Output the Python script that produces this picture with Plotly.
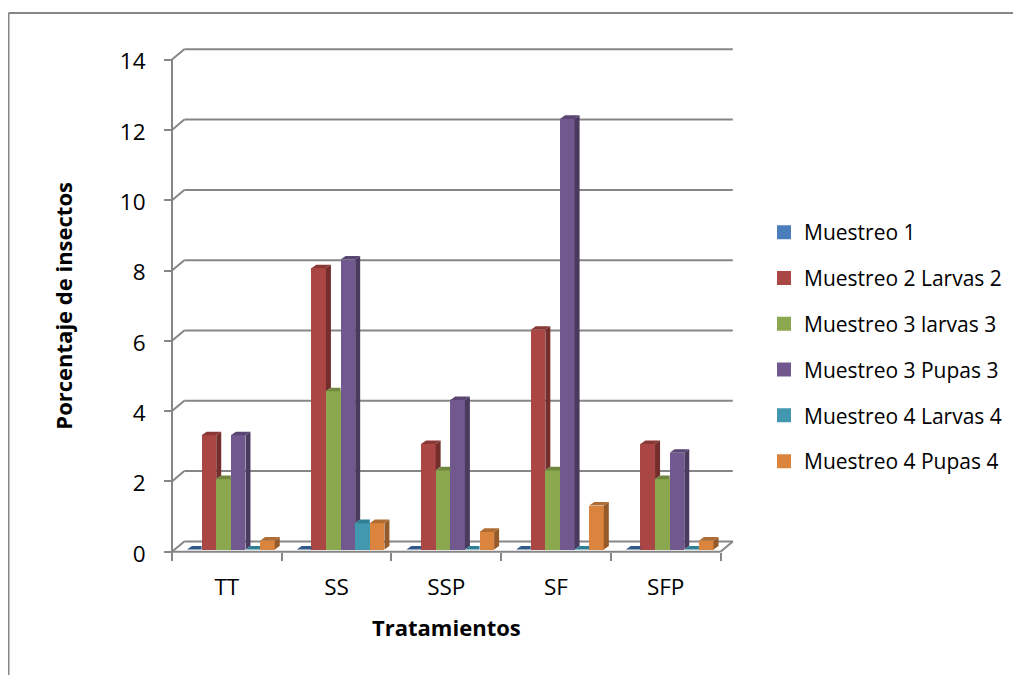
import plotly.graph_objects as go

categories = ["TT", "SS", "SSP", "SF", "SFP"]
series_names = ["Muestreo 1", "Muestreo 2 Larvas 2", "Muestreo 3 larvas 3",
                "Muestreo 3 Pupas 3", "Muestreo 4 Larvas 4", "Muestreo 4 Pupas 4"]
muestreo_1 = [0, 0, 0, 0, 0]
muestreo_2_larvas = [3.25, 8, 3, 6.25, 3]
muestreo_3_larvas = [2, 4.5, 2.25, 2.25, 2]
muestreo_3_pupas = [3.25, 8.25, 4.25, 12.25, 2.75]
muestreo_4_larvas = [0, 0.75, 0, 0, 0]
muestreo_4_pupas = [0.25, 0.75, 0.5, 1.25, 0.25]
y_ticks = [0, 2, 4, 6, 8, 10, 12, 14]

series = [muestreo_1, muestreo_2_larvas, muestreo_3_larvas,
          muestreo_3_pupas, muestreo_4_larvas, muestreo_4_pupas]
colors = ["#4A7EBB", "#AA4643", "#8BA84E", "#71588F", "#4198AF", "#DB843D"]
side_colors = ["#2F5078", "#742F2D", "#5E7235", "#4B3A60", "#2B6678", "#955A29"]
top_colors = ["#2F5A8A", "#8A3836", "#6F873F", "#5A4672", "#2F7F94", "#B06C32"]
grid_color = "#868686"

# pixel geometry of the plotting frame (page coordinates; the page body adds an 8 px margin)
W, H = 1021, 675
PAGE = 8
LEFT, RIGHT, TOP, BOTTOM = 168, 737, 44, 556
X0, Y0 = 172, 551.7          # pixel of category 0 / value 0 on the front plane
PX_X, PX_Y = 109.7, 35.15    # pixels per category / per unit
DEPTH_X, DEPTH_Y = 12.3 / PX_X, 10.3 / PX_Y     # back wall offset
BAR_DX, BAR_DY = 5 / PX_X, 3.6 / PX_Y           # bar depth
BAR_W = 14.62 / PX_X
BAR_START = 15 / PX_X
BAR_BASE = 2.2 / PX_Y
n_cat = len(categories)

fig = go.Figure()

# bar fronts (the legend swatches come from the empty traces below)
for s, vals in enumerate(series):
    fig.add_trace(go.Bar(
        x=list(range(n_cat)), y=vals, base=BAR_BASE, width=BAR_W,
        offset=BAR_START + s * BAR_W, name=series_names[s], showlegend=False,
        legendgroup=series_names[s], marker=dict(color=colors[s], line=dict(width=0)),
    ))
for s in range(len(series)):
    fig.add_trace(go.Bar(
        x=[None], y=[None], name=series_names[s], legendgroup=series_names[s],
        marker=dict(color=colors[s], line=dict(width=2, color=colors[s])),
    ))

# bar sides and tops, worked out from the values
for s, vals in enumerate(series):
    next_vals = series[s + 1] if s + 1 < len(series) else [None] * n_cat
    sx, sy, tx, ty = [], [], [], []
    for c, v in enumerate(vals):
        xl = c + BAR_START + s * BAR_W
        xr = xl + BAR_W
        top = BAR_BASE + v
        nv = next_vals[c]
        if nv is None or nv < v:
            low = BAR_BASE + (nv or 0)
            sx += [xr, xr + BAR_DX, xr + BAR_DX, xr, xr, None]
            sy += [low, low + BAR_DY, top + BAR_DY, top, low, None]
            tx += [xl, xr, xr + BAR_DX, xl + BAR_DX, xl, None]
            ty += [top, top, top + BAR_DY, top + BAR_DY, top, None]
        else:
            tx += [xl, xr, xr, xl + BAR_DX, xl, None]
            ty += [top, top, top + BAR_DY, top + BAR_DY, top, None]
    for px, py, col in ((sx, sy, side_colors[s]), (tx, ty, top_colors[s])):
        fig.add_trace(go.Scatter(
            x=px, y=py, mode="lines", fill="toself", fillcolor=col,
            line=dict(width=0, color=col), hoverinfo="skip", showlegend=False,
            legendgroup=series_names[s],
        ))

# walls, floor and front axes
line = dict(color=grid_color, width=2)
shapes = []
for v in y_ticks:
    shapes.append(dict(type="line", xref="x", yref="y", x0=0, x1=DEPTH_X, y0=v, y1=v + DEPTH_Y, line=line, layer="below"))
    shapes.append(dict(type="line", xref="x", yref="y", x0=DEPTH_X, x1=n_cat + DEPTH_X, y0=v + DEPTH_Y, y1=v + DEPTH_Y, line=line, layer="below"))
shapes.append(dict(type="line", xref="x", yref="y", x0=0, x1=0, y0=0, y1=y_ticks[-1], line=line, layer="below"))
shapes.append(dict(type="line", xref="x", yref="y", x0=0, x1=n_cat, y0=0, y1=0, line=line, layer="below"))
shapes.append(dict(type="line", xref="x", yref="y", x0=n_cat, x1=n_cat + DEPTH_X, y0=0, y1=DEPTH_Y, line=line, layer="below"))

# outer frame (top and left edges only)
fx = lambda p: (p - LEFT) / (RIGHT - LEFT)
fy = lambda p: (BOTTOM - p) / (BOTTOM - TOP)
frame = dict(color=grid_color, width=2)
shapes.append(dict(type="line", xref="paper", yref="paper", x0=fx(8.5), x1=fx(W), y0=fy(13), y1=fy(13), line=frame))
shapes.append(dict(type="line", xref="paper", yref="paper", x0=fx(8.5), x1=fx(8.5), y0=fy(13), y1=fy(H), line=frame))

FONT = "Open Sans"
BLACK = "#000000"
fig.update_layout(
    width=W - PAGE, height=H - PAGE, autosize=False, barmode="overlay", bargap=0,
    margin=dict(l=LEFT - PAGE, r=W - RIGHT, t=TOP - PAGE, b=H - BOTTOM, pad=0, autoexpand=False),
    paper_bgcolor="white", plot_bgcolor="white", shapes=shapes,
    font=dict(family=FONT, color=BLACK),
    xaxis=dict(
        range=[(LEFT - X0) / PX_X, (RIGHT - X0) / PX_X], anchor="free", position=fy(Y0),
        tickmode="array", tickvals=[c + 0.5 for c in range(n_cat)], ticktext=categories,
        ticks="", showgrid=False, zeroline=False, showline=False, ticklabelstandoff=20,
        tickfont=dict(size=22.5, family=FONT, color=BLACK),
        minor=dict(tickmode="array", tickvals=list(range(n_cat + 1)), ticks="outside",
                   ticklen=8, tickwidth=2, tickcolor=grid_color, showgrid=False),
    ),
    yaxis=dict(
        range=[(Y0 - BOTTOM) / PX_Y, (Y0 - TOP) / PX_Y], anchor="free", position=fx(X0),
        tickmode="array", tickvals=y_ticks, ticks="outside", ticklen=8, tickwidth=2,
        tickcolor=grid_color, showgrid=False, zeroline=False, showline=False,
        ticklabelstandoff=14, ticklabelshift=2, tickfont=dict(size=22.5, family=FONT, color=BLACK),
    ),
    legend=dict(
        x=fx(764), xanchor="left", y=fy(212), yanchor="top", tracegroupgap=15.5,
        traceorder="grouped", bgcolor="rgba(0,0,0,0)", borderwidth=0,
        font=dict(size=21, family=FONT, color=BLACK),
    ),
    annotations=[
        dict(text="<b>Tratamientos</b>", xref="x", yref="y", x=n_cat / 2, y=0, yshift=-75,
             showarrow=False, font=dict(size=22, family=FONT, color=BLACK)),
        dict(text="<b>Porcentaje de insectos</b>", xref="x", yref="y", x=0, y=y_ticks[-1] / 2,
             xshift=-109, textangle=-90, showarrow=False, font=dict(size=22, family=FONT, color=BLACK)),
    ],
)
fig.write_html("out.html")
